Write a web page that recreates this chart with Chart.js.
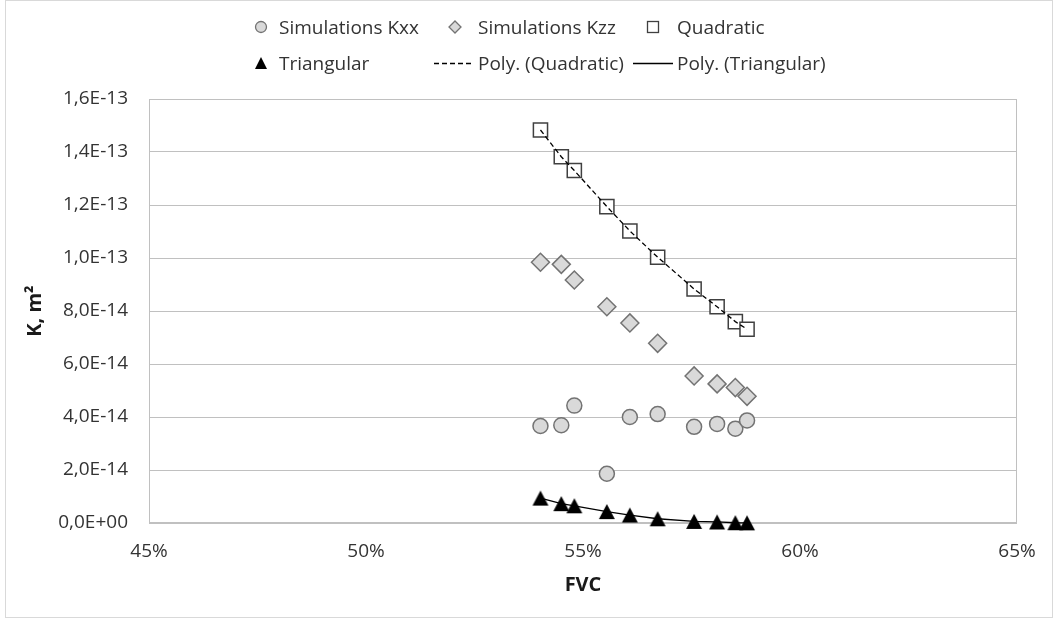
<!DOCTYPE html>
<html>
<head>
<meta charset="utf-8">
<script src="https://cdn.jsdelivr.net/npm/chart.js@4/dist/chart.umd.min.js"></script>
<style>
  html, body { margin: 0; padding: 0; background: #fff; }
  #wrap { position: relative; width: 1054px; height: 619px; overflow: hidden; }
  #frame { position: absolute; left: 5px; top: 0px; width: 1048px; height: 618px; border: 1px solid #d9d9d9; box-sizing: border-box; }
  canvas { position: absolute; left: 0; top: 0; }
  .lt { position: absolute; font-family: 'Open Sans', sans-serif; font-size: 19px; line-height: 26px; height: 26px; color: #333333; white-space: nowrap; margin-top: -13px; }
  .mk { position: absolute; }
</style>
</head>
<body>
<div id="wrap">
  <div id="frame"></div>
  <canvas id="c" width="1054" height="619"></canvas>
  <div id="legend"></div>
</div>
<script>
// ---- data ----
const fvc = [54.02, 54.50, 54.80, 55.55, 56.08, 56.72, 57.56, 58.09, 58.51, 58.78]; // %
const kxx = [3.66e-14, 3.69e-14, 4.43e-14, 1.86e-14, 4.00e-14, 4.11e-14, 3.63e-14, 3.74e-14, 3.56e-14, 3.87e-14];
const kzz = [9.84e-14, 9.76e-14, 9.17e-14, 8.16e-14, 7.55e-14, 6.78e-14, 5.55e-14, 5.25e-14, 5.11e-14, 4.78e-14];
const quadratic = [1.483e-13, 1.382e-13, 1.330e-13, 1.194e-13, 1.102e-13, 1.003e-13, 8.83e-14, 8.16e-14, 7.60e-14, 7.31e-14];
const triangular = [9.4e-15, 7.3e-15, 6.5e-15, 4.3e-15, 3.0e-15, 1.6e-15, 0.6e-15, 0.4e-15, 0.1e-15, 0.05e-15];
const xTicks = [45, 50, 55, 60, 65];
const yMax = 1.6e-13, yStep = 2e-14;
const seriesNames = ['Simulations Kxx', 'Simulations Kzz', 'Quadratic', 'Triangular', 'Poly. (Quadratic)', 'Poly. (Triangular)'];

function pts(ys) { return fvc.map((x, i) => ({ x: x, y: ys[i] })); }

function sci(v) {
  if (Math.abs(v) < 1e-20) return '0,0E+00';
  let e = Math.floor(Math.log10(Math.abs(v)));
  let m = v / Math.pow(10, e);
  if (Math.round(m * 10) / 10 >= 10) { m /= 10; e++; }
  if (Math.round(m * 10) / 10 < 1) { m *= 10; e--; }
  return m.toFixed(1).replace('.', ',') + 'E' + (e < 0 ? '-' : '+') + String(Math.abs(e)).padStart(2, '0');
}

const TXT = '#333333';
const GRID = '#c0c0c0';

// triangle marker centred on its bounding box (as the reference markers are)
function triangleMarker(w, h) {
  const cv = document.createElement('canvas');
  const W = Math.ceil(w) + 2, H = Math.ceil(h) + 2;
  cv.width = W; cv.height = H;
  const c = cv.getContext('2d');
  const x0 = (W - w) / 2, y0 = (H - h) / 2;
  c.fillStyle = '#000';
  c.beginPath();
  c.moveTo(W / 2, y0);
  c.lineTo(x0 + w, y0 + h);
  c.lineTo(x0, y0 + h);
  c.closePath();
  c.fill();
  return cv;
}

const framePlugin = {
  id: 'plotFrame',
  beforeDatasetsDraw(chart) {
    const a = chart.chartArea, c = chart.ctx;
    c.save();
    c.strokeStyle = GRID; c.lineWidth = 1;
    c.strokeRect(Math.round(a.left) + 0.5, Math.round(a.top) + 0.5, Math.round(a.right - a.left) - 1, Math.round(a.bottom - a.top) - 1);
    c.restore();
  }
};

Chart.defaults.font.family = "'Open Sans', sans-serif";
Chart.defaults.font.size = 19;
Chart.defaults.color = TXT;

new Chart(document.getElementById('c'), {
  type: 'scatter',
  data: {
    datasets: [
      { label: seriesNames[4], data: pts(quadratic), showLine: true, pointRadius: 0, borderColor: '#000', borderWidth: 1.3, borderDash: [5, 3], order: 0, clip: false },
      { label: seriesNames[5], data: pts(triangular), showLine: true, pointRadius: 0, borderColor: '#000', borderWidth: 1.3, order: 0, clip: false },
      { label: seriesNames[0], data: pts(kxx), pointStyle: 'circle', pointRadius: 7.5, backgroundColor: '#d9d9d9', borderColor: '#737373', borderWidth: 1.5, order: 4, clip: false },
      { label: seriesNames[1], data: pts(kzz), pointStyle: 'rectRot', pointRadius: 9, backgroundColor: '#d9d9d9', borderColor: '#737373', borderWidth: 1.5, order: 3, clip: false },
      { label: seriesNames[2], data: pts(quadratic), pointStyle: 'rect', pointRadius: 10, backgroundColor: '#ffffff', borderColor: '#404040', borderWidth: 1.5, order: 2, clip: false },
      { label: seriesNames[3], data: pts(triangular), pointStyle: triangleMarker(16, 15), pointRadius: 8, backgroundColor: '#000000', borderColor: '#000000', order: 1, clip: false }
    ]
  },
  options: {
    responsive: false,
    animation: false,
    events: [],
    layout: { padding: { left: 0, top: 99, right: 37, bottom: 0 } },
    plugins: { legend: { display: false }, tooltip: { enabled: false } },
    scales: {
      x: {
        type: 'linear', min: xTicks[0], max: xTicks[xTicks.length - 1],
        afterBuildTicks: s => { s.ticks = xTicks.map(v => ({ value: v })); },
        ticks: { padding: 17, callback: v => v + '%', color: TXT },
        grid: { display: false, drawTicks: false },
        border: { display: false },
        title: { display: true, text: 'FVC', color: '#1a1a1a', font: { size: 20, weight: 'bold' }, padding: { top: 0, bottom: 22 } },
        afterFit: s => { s.height = 96; }
      },
      y: {
        type: 'linear', min: 0, max: yMax,
        ticks: { stepSize: yStep, padding: 21, callback: v => sci(v), color: TXT },
        grid: { color: GRID, lineWidth: 1, drawTicks: false },
        border: { display: false },
        title: { display: true, text: 'K, m²', color: '#1a1a1a', font: { size: 20, weight: 'bold' }, padding: { top: 23, bottom: 0 } },
        afterFit: s => { s.width = 149; }
      }
    }
  },
  plugins: [framePlugin]
});

// ---- HTML legend (two rows, as in the reference) ----
const legendItems = [
  { name: seriesNames[0], mx: 261, tx: 279, y: 27, svg: '<svg width="16" height="16"><circle cx="8" cy="8" r="5.5" fill="#d9d9d9" stroke="#737373" stroke-width="1.3"/></svg>' },
  { name: seriesNames[1], mx: 455, tx: 478, y: 27, svg: '<svg width="16" height="16"><path d="M8 2 L14 8 L8 14 L2 8 Z" fill="#d9d9d9" stroke="#737373" stroke-width="1.3"/></svg>' },
  { name: seriesNames[2], mx: 653, tx: 677, y: 27, svg: '<svg width="16" height="16"><rect x="2.5" y="2.5" width="11" height="11" fill="#fff" stroke="#404040" stroke-width="1.3"/></svg>' },
  { name: seriesNames[3], mx: 261, tx: 279, y: 63, svg: '<svg width="16" height="16"><path d="M8 2 L14 14 L2 14 Z" fill="#000"/></svg>' },
  { name: seriesNames[4], mx: 453.5, tx: 478, y: 63, svg: '<svg width="40" height="16"><line x1="0" y1="8.5" x2="40" y2="8.5" stroke="#000" stroke-width="1.3" stroke-dasharray="5,3"/></svg>' },
  { name: seriesNames[5], mx: 652.5, tx: 677, y: 63, svg: '<svg width="40" height="16"><line x1="0" y1="8.5" x2="40" y2="8.5" stroke="#000" stroke-width="1.3"/></svg>' }
];
const lg = document.getElementById('legend');
legendItems.forEach(it => {
  const m = document.createElement('div');
  m.className = 'mk';
  m.innerHTML = it.svg;
  const w = it.svg.indexOf('width="40"') > 0 ? 40 : 16;
  m.style.left = (it.mx - w / 2) + 'px';
  m.style.top = (it.y - 8) + 'px';
  m.style.lineHeight = '0';
  lg.appendChild(m);
  const t = document.createElement('div');
  t.className = 'lt';
  t.textContent = it.name;
  t.style.left = it.tx + 'px';
  t.style.top = it.y + 'px';
  lg.appendChild(t);
});
</script>
</body>
</html>
